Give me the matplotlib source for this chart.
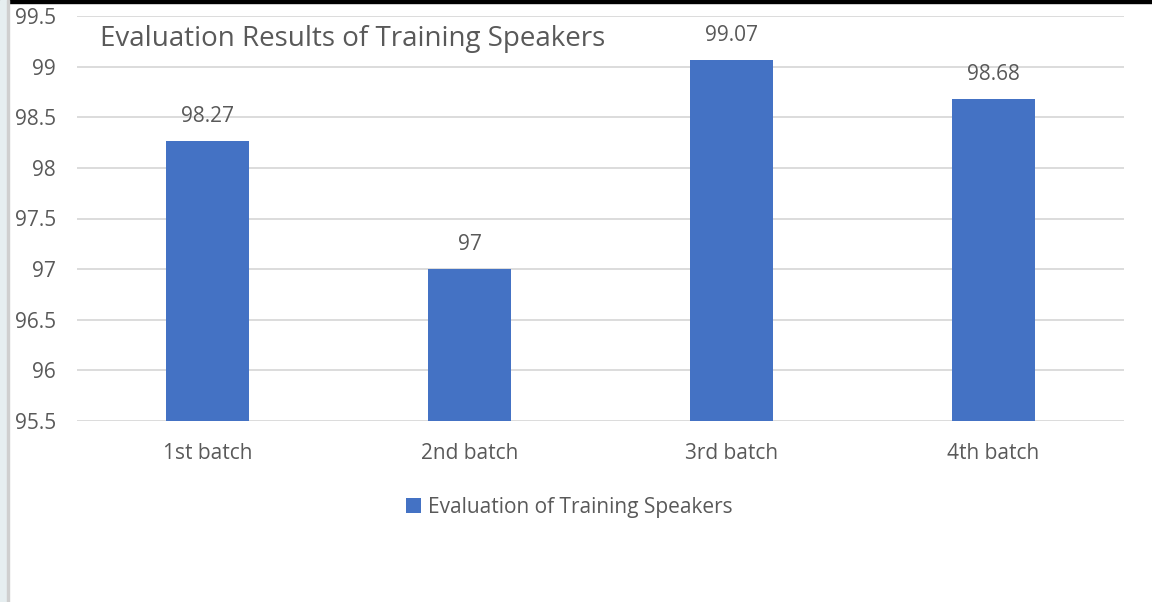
import matplotlib
matplotlib.use("Agg")
import matplotlib.pyplot as plt
from matplotlib.patches import Rectangle

categories = ["1st batch", "2nd batch", "3rd batch", "4th batch"]
values = [98.27, 97, 99.07, 98.68]
value_labels = ["98.27", "97", "99.07", "98.68"]
yticks = [95.5, 96, 96.5, 97, 97.5, 98, 98.5, 99, 99.5]
ytick_labels = ["95.5", "96", "96.5", "97", "97.5", "98", "98.5", "99", "99.5"]

grey = "#595959"
plt.rcParams['font.family'] = ['Open Sans', 'DejaVu Sans']

fig = plt.figure(figsize=(11.52, 6.02), dpi=100)
ax = fig.add_axes([77/1152, 1-421/602, 1047/1152, 405/602])

x = range(len(categories))
bars = ax.bar(x, values, width=0.317, color="#4472c4", zorder=3,
              label="Evaluation of Training Speakers")
ax.set_xlim(-0.5, len(categories) - 0.5)
ax.set_ylim(95.5, 99.5)
ax.set_yticks(yticks)
ax.set_yticklabels(ytick_labels)
ax.set_xticks(list(x))
ax.set_xticklabels(categories)
ax.tick_params(axis="both", length=0, labelsize=15, colors=grey)
ax.tick_params(axis="y", pad=15)
ax.tick_params(axis="x", pad=16)
ax.grid(axis="y", color="#d9d9d9", linewidth=1.3, zorder=0)
for s in ax.spines.values():
    s.set_visible(False)

for xi, v, t in zip(x, values, value_labels):
    ax.annotate(t, (xi, v), xytext=(0, 10), textcoords="offset points",
                ha="center", va="bottom", fontsize=15, color=grey)

fig.text(100/1152, 1-39/602, "Evaluation Results of Training Speakers",
         fontsize=20, color=grey, ha="left", va="center")

leg = fig.legend(loc="center", bbox_to_anchor=(569/1152, 1-507/602), frameon=False,
                 fontsize=15, handlelength=0.75, handleheight=0.75, handletextpad=0.3)
for t in leg.get_texts():
    t.set_color(grey)

# frame details from the screenshot
fig.patches.append(Rectangle((0, 1-3/602), 1, 3/602, transform=fig.transFigure,
                             color="black", zorder=10))
fig.patches.append(Rectangle((0, 0), 7/1152, 1, transform=fig.transFigure,
                             color="#e6eef0", zorder=10))
fig.patches.append(Rectangle((7/1152, 0), 2/1152, 1, transform=fig.transFigure,
                             color="#cfcfcf", zorder=10))

fig.savefig("out.png", dpi=100)
